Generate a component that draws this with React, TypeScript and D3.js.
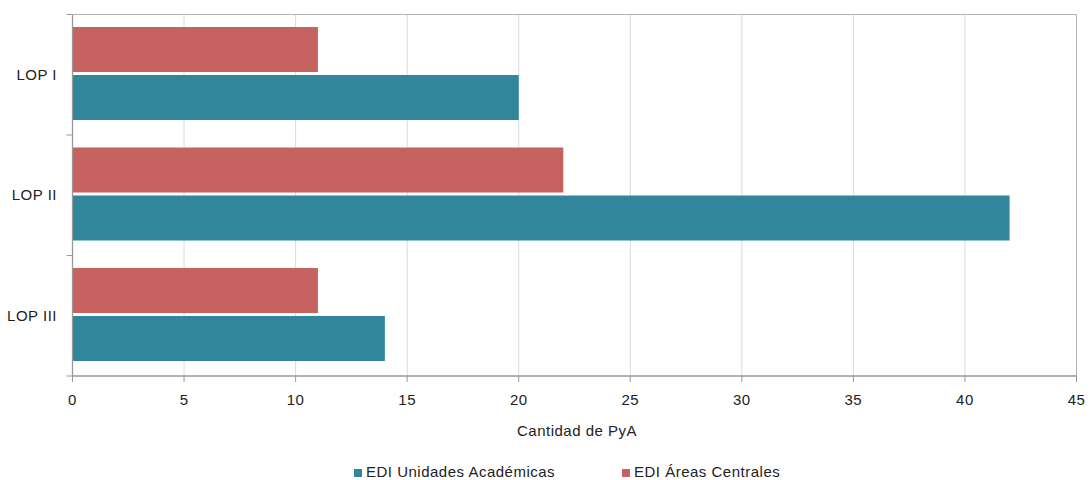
import React from "react";
import * as d3 from "d3";

const categories = ["LOP I", "LOP II", "LOP III"];
const seriesNames = ["EDI Áreas Centrales", "EDI Unidades Académicas"];
const areasCentrales = [11, 22, 11];
const unidadesAcademicas = [20, 42, 14];
const xTicks = [0, 5, 10, 15, 20, 25, 30, 35, 40, 45];
const legendOrder = ["EDI Unidades Académicas", "EDI Áreas Centrales"];
const colors: Record<string, string> = {
  "EDI Áreas Centrales": "#C6625F",
  "EDI Unidades Académicas": "#31869C",
};

export default function App() {
  const W = 1091, H = 480;
  const left = 72.5, right = 1076.5, top = 14.5, bottom = 376;
  const x = d3.scaleLinear().domain([0, 45]).range([left, right]);
  const y = d3.scaleBand().domain(categories).range([top, bottom]).paddingInner(0).paddingOuter(0);
  const inner = d3.scaleBand().domain(seriesNames).range([12.5, 105.5]).paddingInner(0.0625).paddingOuter(0);
  const values: Record<string, number[]> = {
    "EDI Áreas Centrales": areasCentrales,
    "EDI Unidades Académicas": unidadesAcademicas,
  };
  const font = "'Liberation Sans', Arial, sans-serif";
  const fs = 15;
  const ls = 0.5;
  const boundaries = categories.map((c) => y(c)!).concat([bottom]);
  return (
    <svg width={W} height={H} style={{ position: "absolute", left: 0, top: 0 }} fontFamily={font}>
      {xTicks.slice(1, -1).map((t) => (
        <line key={t} x1={x(t)} x2={x(t)} y1={top} y2={bottom} stroke="#d9d9d9" strokeWidth={1} />
      ))}
      <line x1={left} x2={right} y1={top} y2={top} stroke="#b3b3b3" />
      <line x1={right} x2={right} y1={top} y2={bottom} stroke="#b3b3b3" />
      {categories.map((c, i) =>
        seriesNames.map((s) => (
          <rect
            key={c + s}
            x={x(0)}
            y={y(c)! + inner(s)!}
            width={x(values[s][i]) - x(0)}
            height={inner.bandwidth()}
            fill={colors[s]}
          />
        ))
      )}
      <line x1={left} x2={left} y1={top} y2={bottom} stroke="#999" strokeWidth={1.3} />
      <line x1={left} x2={right} y1={bottom} y2={bottom} stroke="#999" strokeWidth={1.3} />
      {boundaries.map((b, i) => (
        <line key={i} x1={left - 6} x2={left} y1={b} y2={b} stroke="#999" />
      ))}
      {xTicks.map((t) => (
        <g key={t}>
          <line x1={x(t)} x2={x(t)} y1={bottom} y2={bottom + 6} stroke="#999" />
          <text x={x(t)} y={405} textAnchor="middle" fontSize={fs} letterSpacing={ls} fill="#222">{t}</text>
        </g>
      ))}
      {categories.map((c) => (
        <text key={c} x={57} y={y(c)! + y.bandwidth() / 2 + 5} textAnchor="end" fontSize={fs} letterSpacing={ls} fill="#222">{c}</text>
      ))}
      <text x={577} y={436} textAnchor="middle" fontSize={fs} letterSpacing={ls} fill="#222">Cantidad de PyA</text>
      {legendOrder.map((s, i) => {
        const lx = i === 0 ? 354 : 622;
        return (
          <g key={s}>
            <rect x={lx} y={469} width={8} height={8} fill={colors[s]} />
            <text x={lx + 12} y={477} fontSize={fs} letterSpacing={ls} fill="#222">{s}</text>
          </g>
        );
      })}
    </svg>
  );
}
